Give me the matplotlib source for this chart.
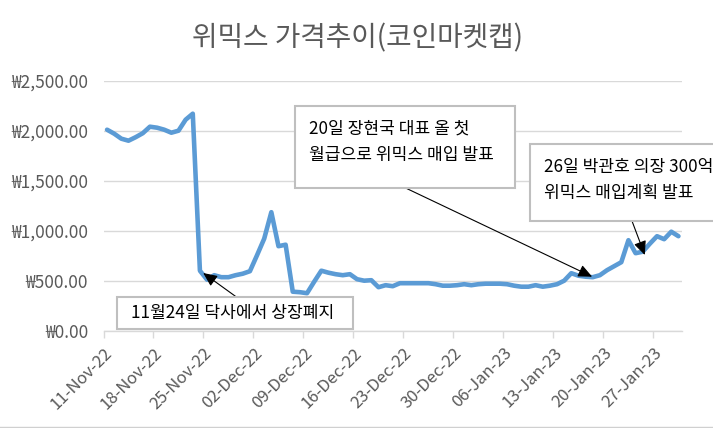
import matplotlib
matplotlib.use("Agg")
import matplotlib.pyplot as plt
import matplotlib.dates as mdates
from matplotlib.patches import Rectangle
from matplotlib.lines import Line2D
import pandas as pd

plt.rcParams["font.family"] = ["Noto Sans CJK KR", "DejaVu Sans"]

# daily price (KRW), 11-Nov-22 .. 30-Jan-23
start_date = "2022-11-11"
prices = [2010, 1970, 1920, 1900, 1935, 1975, 2040, 2030, 2010, 1980,
          2000, 2110, 2170, 600, 510, 555, 535, 535, 555, 570,
          595, 755, 920, 1185, 845, 860, 390, 385, 375, 490,
          600, 580, 565, 555, 565, 515, 500, 505, 435, 455,
          445, 475, 475, 475, 475, 475, 465, 450, 450, 455,
          465, 455, 465, 470, 470, 470, 465, 450, 440, 440,
          455, 440, 450, 465, 500, 575, 550, 540, 535, 555,
          605, 645, 685, 905, 775, 790, 870, 945, 915, 990, 945]
dates = pd.date_range(start_date, periods=len(prices), freq="D")
tick_dates = pd.date_range("2022-11-11", "2023-01-27", freq="7D")

title = "위믹스 가격추이(코인마켓캡)"
notes = ["11월24일 닥사에서 상장폐지",
         "20일 장현국 대표 올 첫\n월급으로 위믹스 매입 발표",
         "26일 박관호 의장 300억\n위믹스 매입계획 발표"]
# where each arrow points (date, price)
note_dates = pd.to_datetime(["2022-11-24 23:00", "2023-01-18 10:00", "2023-01-25 19:00"])
note_prices = [577, 540, 757]

W, H = 713, 428
def fpx(x, y):
    return x / W, 1 - y / H

gray = "#595959"
grid = "#D9D9D9"

fig = plt.figure(figsize=(W / 100, H / 100), dpi=100)
ax = fig.add_axes([103.5 / W, 1 - 330.7 / H, 578.5 / W, 250 / H])

# points sit between the day tick marks
ax.plot(dates + pd.Timedelta(hours=12), prices, color="#5B9BD5", lw=3.3,
        solid_joinstyle="round", solid_capstyle="round", zorder=3)

ax.set_xlim(pd.Timestamp("2022-11-11"), pd.Timestamp("2023-01-31"))
ax.set_ylim(0, 2500)
ax.set_yticks(range(0, 2501, 500))
ax.yaxis.set_major_formatter(lambda v, p: "₩{:,.2f}".format(v))
ax.grid(axis="y", color=grid, lw=1)
ax.set_axisbelow(True)
for s in ["top", "right", "left"]:
    ax.spines[s].set_visible(False)
ax.spines["bottom"].set_color(grid)
ax.spines["bottom"].set_linewidth(1)

ax.set_xticks(tick_dates)
ax.xaxis.set_major_formatter(mdates.DateFormatter("%d-%b-%y"))
ax.tick_params(axis="x", colors=grid, length=5, width=1, labelcolor=gray,
               labelsize=12, pad=5)
ax.tick_params(axis="y", length=0, labelcolor=gray, labelsize=12.5, pad=11)
for lab in ax.get_xticklabels():
    lab.set_rotation(45)
    lab.set_ha("right")
    lab.set_va("top")
    lab.set_rotation_mode("anchor")

fig.text(*fpx(357, 38), title, ha="center", va="center", fontsize=20, color=gray)

# callout boxes (pixel boxes, text anchor, arrow tail)
boxes = [(116.7, 296.7, 353.3, 329), (295, 105.7, 515, 187.7), (530, 144, 716, 221)]
text_pos = [(233, 313, "center"), (309, 142, "left"), (544, 180, "left")]
tails = [(236, 296.7), (405, 187.7), (632, 221)]

for (x0, y0, x1, y1), (tx, ty, ha), note, tail, d, v in zip(
        boxes, text_pos, notes, tails, note_dates, note_prices):
    fx0, fy1 = fpx(x0, y1)
    fig.add_artist(Rectangle((fx0, fy1), (x1 - x0) / W, (y1 - y0) / H,
                             transform=fig.transFigure, facecolor="white",
                             edgecolor="#BFBFBF", lw=1.5, zorder=5))
    fig.text(*fpx(tx, ty), note, ha=ha, va="center", fontsize=12.3,
             color="black", linespacing=1.6, zorder=6)
    ax.annotate("", xy=(d, v), xycoords="data", xytext=fpx(*tail),
                textcoords="figure fraction",
                arrowprops=dict(arrowstyle="-|>,head_length=0.6,head_width=0.27",
                                color="black", lw=0.8,
                                mutation_scale=14, shrinkA=0, shrinkB=0),
                zorder=4)

# sheet border peeking at the bottom
fig.add_artist(Line2D([0, 1], [1 - 426.7 / H] * 2, transform=fig.transFigure,
                      color="#D0D0D0", lw=1))

fig.savefig("out.png", dpi=100)
